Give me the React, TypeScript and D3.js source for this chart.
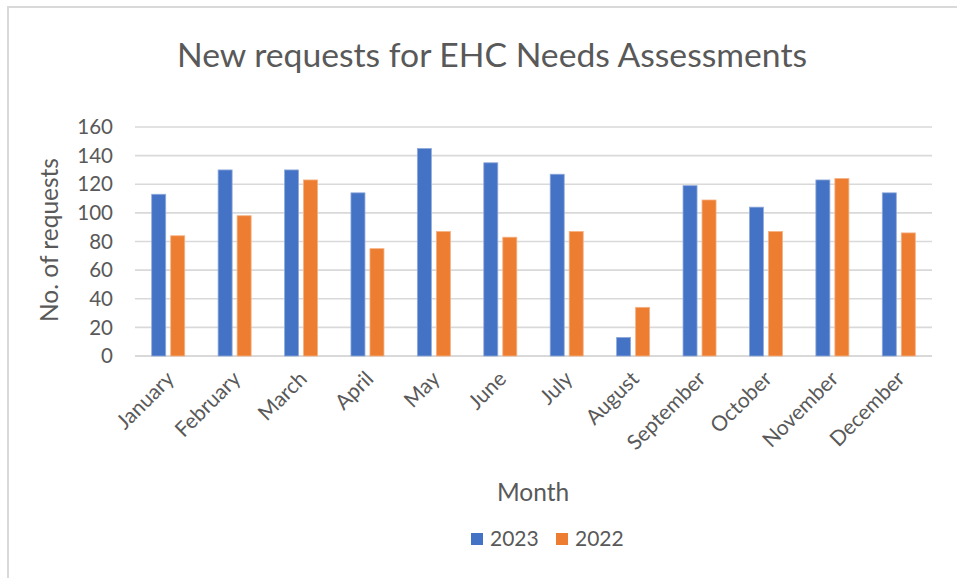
import React from "react";
import * as d3 from "d3";

const months = ["January","February","March","April","May","June","July","August","September","October","November","December"];
const seriesNames = ["2023", "2022"];
const values2023 = [113, 130, 130, 114, 145, 135, 127, 13, 119, 104, 123, 114];
const values2022 = [84, 98, 123, 75, 87, 83, 87, 34, 109, 87, 124, 86];
const yTicks = [0, 20, 40, 60, 80, 100, 120, 140, 160];
const colors = ["#4472C4", "#ED7D31"];
const strokes = ["#8FAADC", "#F4B183"];

const FONT = "Lato, 'Open Sans', sans-serif";

export default function App() {
  const W = 957, H = 578;
  const x0 = d3.scaleBand<string>().domain(months).range([135, 932]).paddingInner(0).paddingOuter(0);
  const x1 = d3.scaleBand<string>().domain(seriesNames).range([0, x0.bandwidth()]).paddingInner(0.263).paddingOuter(0.879);
  const y = d3.scaleLinear().domain([0, 160]).range([356, 127]);
  const data = [values2023, values2022];

  return (
    <svg width={W} height={H} style={{ position: "absolute", left: 0, top: 0, background: "#fff" }} fontFamily={FONT}>
      <rect x={0} y={0} width={W} height={H} fill="#fff" />
      <rect x={8} y={7} width={W + 10} height={H + 10} fill="none" stroke="#d9d9d9" strokeWidth={2} />
      <text x={492} y={67} textAnchor="middle" fontSize={33.7} fill="#595959">New requests for EHC Needs Assessments</text>

      {yTicks.map((t) => (
        <g key={t}>
          <line x1={135} x2={932} y1={y(t)} y2={y(t)} stroke="#d9d9d9" strokeWidth={t === 0 ? 2 : 1.6} />
          <text x={113} y={y(t)} dy="0.35em" textAnchor="end" fontSize={20.5} fill="#595959">{t}</text>
        </g>
      ))}

      {data.map((vals, si) => (
        <g key={si}>
          {vals.map((v, i) => (
            <rect
              key={i}
              x={(x0(months[i]) as number) + (x1(seriesNames[si]) as number)}
              y={y(v)}
              width={x1.bandwidth()}
              height={y(0) - y(v)}
              fill={colors[si]}
              stroke={strokes[si]}
              strokeWidth={0.8}
            />
          ))}
        </g>
      ))}

      {months.map((m) => {
        const cx = (x0(m) as number) + x0.bandwidth() / 2 + 2;
        return (
          <text key={m} transform={`translate(${cx},${375}) rotate(-45)`} textAnchor="end" dy="0.35em" fontSize={21} fill="#595959">{m}</text>
        );
      })}

      <text transform={`translate(58,240) rotate(-90)`} textAnchor="middle" fontSize={24.5} fill="#595959">No. of requests</text>
      <text x={533} y={501} textAnchor="middle" fontSize={24.5} fill="#595959">Month</text>

      {seriesNames.map((s, i) => {
        const lx = [471, 556][i];
        return (
          <g key={s}>
            <rect x={lx} y={533} width={12} height={12} fill={colors[i]} />
            <text x={lx + 19} y={539} dy="0.35em" fontSize={21} fill="#595959">{s}</text>
          </g>
        );
      })}
    </svg>
  );
}
